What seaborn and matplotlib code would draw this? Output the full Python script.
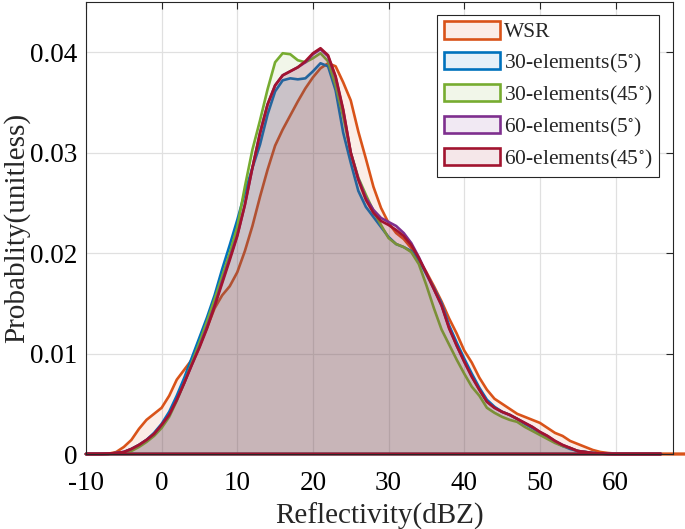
import matplotlib
matplotlib.use("Agg")
import matplotlib.pyplot as plt
import seaborn as sns
from matplotlib.patches import Patch

# ---------------- data ----------------
x_grid = [-10, -9, -8, -7, -6, -5, -4, -3, -2, -1, 0, 1, 2, 3, 4, 5, 6, 7, 8, 9,
          10, 11, 12, 13, 14, 15, 16, 17, 18, 19, 20, 21, 22, 23, 24, 25, 26, 27,
          28, 29, 30, 31, 32, 33, 34, 35, 36, 37, 38, 39, 40, 41, 42, 43, 44, 45,
          46, 47, 48, 49, 50, 51, 52, 53, 54, 55, 56, 57, 58, 59, 60, 62, 64, 66]

wsr = [0, 0, 0, 0.00003, 0.0002, 0.0007, 0.0014, 0.0025, 0.0034, 0.0040,
       0.0046, 0.0058, 0.0074, 0.0084, 0.0094, 0.0108, 0.0126, 0.0145, 0.0158, 0.0167,
       0.0181, 0.0202, 0.0227, 0.0256, 0.0283, 0.0307, 0.0323, 0.0337, 0.0351, 0.0364,
       0.0375, 0.0384, 0.0389, 0.0386, 0.0370, 0.0352, 0.0321, 0.0294, 0.0266, 0.0245,
       0.0230, 0.0220, 0.0214, 0.0205, 0.0194, 0.0181, 0.0167, 0.0152, 0.0135, 0.0120,
       0.0103, 0.0091, 0.0076, 0.0064, 0.0055, 0.0050, 0.0045, 0.0040, 0.0037, 0.0034,
       0.0031, 0.0026, 0.0021, 0.0018, 0.0013, 0.0010, 0.0007, 0.0004, 0.0002, 0.0001,
       0.00004, 0, 0, 0]
wsr_tail_x = [70]
wsr_tail_y = [0]

el30_5 = [0, 0, 0, 0.00002, 0.0001, 0.0002, 0.0005, 0.0009, 0.0014, 0.0021,
          0.0030, 0.0042, 0.0058, 0.0076, 0.0096, 0.0116, 0.0136, 0.0158, 0.0184, 0.0208,
          0.0233, 0.0260, 0.0285, 0.0308, 0.0338, 0.0361, 0.0372, 0.0374, 0.0373, 0.0374,
          0.0381, 0.0389, 0.0386, 0.0362, 0.0320, 0.0290, 0.0262, 0.0246, 0.0236, 0.0226,
          0.0216, 0.0209, 0.0206, 0.0202, 0.0193, 0.0179, 0.0165, 0.0150, 0.0128, 0.0111,
          0.0095, 0.0080, 0.0066, 0.0054, 0.0047, 0.0042, 0.0039, 0.0035, 0.0030, 0.0026,
          0.0021, 0.0017, 0.0012, 0.0008, 0.0005, 0.0003, 0.0002, 0.0001, 0.00004, 0.00001,
          0, 0, 0, 0]

el30_45 = [0, 0, 0, 0.00001, 0.00005, 0.0001, 0.0003, 0.0007, 0.0012, 0.0018,
           0.0026, 0.0037, 0.0053, 0.0071, 0.0091, 0.0111, 0.0132, 0.0154, 0.0177, 0.0200,
           0.0226, 0.0266, 0.0303, 0.0332, 0.0363, 0.0390, 0.0399, 0.0398, 0.0392, 0.0390,
           0.0394, 0.0399, 0.0391, 0.0367, 0.0336, 0.0300, 0.0275, 0.0258, 0.0242, 0.0228,
           0.0215, 0.0209, 0.0206, 0.0201, 0.0189, 0.0168, 0.0145, 0.0124, 0.0109, 0.0094,
           0.0080, 0.0067, 0.0058, 0.0046, 0.0041, 0.0037, 0.0034, 0.0032, 0.0027, 0.0023,
           0.0019, 0.0015, 0.0011, 0.0008, 0.0006, 0.0003, 0.0002, 0.0001, 0.00003, 0.00001,
           0, 0, 0, 0]

el60_5 = [0, 0, 0, 0.00002, 0.0001, 0.0002, 0.0005, 0.0009, 0.0014, 0.0020,
          0.0029, 0.0039, 0.0054, 0.0071, 0.0089, 0.0107, 0.0127, 0.0148, 0.0172, 0.0195,
          0.0218, 0.0248, 0.0285, 0.0320, 0.0348, 0.0367, 0.0377, 0.0381, 0.0385, 0.0390,
          0.0398, 0.0403, 0.0396, 0.0375, 0.0342, 0.0300, 0.0274, 0.0255, 0.0243, 0.0235,
          0.0231, 0.0227, 0.0220, 0.0210, 0.0196, 0.0180, 0.0164, 0.0148, 0.0126, 0.0108,
          0.0092, 0.0077, 0.0064, 0.0052, 0.0046, 0.0042, 0.0039, 0.0035, 0.0031, 0.0027,
          0.0022, 0.0018, 0.0013, 0.0009, 0.0006, 0.0003, 0.0002, 0.0001, 0.00004, 0.00001,
          0, 0, 0, 0]

el60_45 = [0, 0, 0, 0.00002, 0.0001, 0.0002, 0.0005, 0.0009, 0.0014, 0.0020,
           0.0029, 0.0039, 0.0054, 0.0071, 0.0089, 0.0106, 0.0125, 0.0147, 0.0170, 0.0193,
           0.0217, 0.0248, 0.0285, 0.0319, 0.0348, 0.0367, 0.0377, 0.0381, 0.0385, 0.0391,
           0.0399, 0.0404, 0.0397, 0.0376, 0.0343, 0.0300, 0.0273, 0.0253, 0.0240, 0.0232,
           0.0228, 0.0223, 0.0217, 0.0208, 0.0195, 0.0180, 0.0164, 0.0148, 0.0125, 0.0108,
           0.0092, 0.0077, 0.0064, 0.0052, 0.0046, 0.0042, 0.0039, 0.0035, 0.0031, 0.0027,
           0.0022, 0.0018, 0.0013, 0.0009, 0.0006, 0.0003, 0.0002, 0.0001, 0.00004, 0.00001,
           0, 0, 0, 0]

series_names = ["WSR", r"30-elements(5$^{\circ}$)", r"30-elements(45$^{\circ}$)",
                r"60-elements(5$^{\circ}$)", r"60-elements(45$^{\circ}$)"]
series_colors = [(0.850, 0.325, 0.098), (0.000, 0.447, 0.741), (0.466, 0.674, 0.188),
                 (0.494, 0.184, 0.556), (0.635, 0.078, 0.184)]

x_ticks = [-10, 0, 10, 20, 30, 40, 50, 60]
x_tick_labels = ["-10", "0", "10", "20", "30", "40", "50", "60"]
y_ticks = [0, 0.01, 0.02, 0.03, 0.04]
y_tick_labels = ["0", "0.01", "0.02", "0.03", "0.04"]

# ---------------- style ----------------
sns.set_style("white")
plt.rcParams["font.family"] = ["Liberation Serif", "DejaVu Serif"]
plt.rcParams["mathtext.fontset"] = "stix"
plt.rcParams["axes.unicode_minus"] = False

fig = plt.figure(figsize=(6.85, 5.29), dpi=100)
ax = fig.add_axes([86 / 685, 75 / 529, 587 / 685, 452 / 529])

xs_list = [x_grid + wsr_tail_x, x_grid, x_grid, x_grid, x_grid]
ys_list = [wsr + wsr_tail_y, el30_5, el30_45, el60_5, el60_45]

for i, (xs, ys, col) in enumerate(zip(xs_list, ys_list, series_colors)):
    ax.fill_between(xs, ys, 0, color=col, alpha=0.1, lw=0, zorder=2 + i)
    # closed outline (curve + baseline) like a filled patch edge
    xc = list(xs) + [xs[-1], xs[0]]
    yc = list(ys) + [0, 0]
    sns.lineplot(x=xc, y=yc, sort=False, color=col, lw=1.9, ax=ax,
                 zorder=3 + i, clip_on=False, estimator=None)

ax.set_xlim(-10, 67.6)
ax.set_ylim(0, 0.045)
ax.set_xticks(x_ticks)
ax.set_xticklabels(x_tick_labels)
ax.set_yticks(y_ticks)
ax.set_yticklabels(y_tick_labels)
ax.grid(True, color=(0.88, 0.88, 0.88), lw=0.9, zorder=0)
ax.set_axisbelow(True)
for sp in ax.spines.values():
    sp.set_color((0.15, 0.15, 0.15))
    sp.set_linewidth(0.8)
    sp.set_zorder(20)
ax.tick_params(direction="in", top=True, right=True, length=5, width=0.8,
               color=(0.15, 0.15, 0.15), labelsize=19.5, labelcolor="black")
ax.tick_params(axis="x", pad=12)
ax.tick_params(axis="y", pad=6)

ax.set_xlabel("Reflectivity(dBZ)", fontsize=21, labelpad=5)
ax.set_ylabel("Probablity(unitless)", fontsize=21, labelpad=0)

handles = [Patch(facecolor=(*c, 0.1), edgecolor=c, lw=1.9) for c in series_colors]
leg = ax.legend(handles, series_names, loc="upper right",
                bbox_to_anchor=(659 / 685, 1 - 15 / 529), bbox_transform=fig.transFigure,
                fontsize=15.5, frameon=True, fancybox=False, framealpha=1,
                edgecolor=(0.15, 0.15, 0.15), handlelength=2.6, handleheight=0.85,
                handletextpad=0.2, labelspacing=0.42, borderpad=0.3, borderaxespad=0)
leg.get_frame().set_linewidth(0.8)
leg.set_zorder(30)

fig.savefig("out.png", dpi=100)
